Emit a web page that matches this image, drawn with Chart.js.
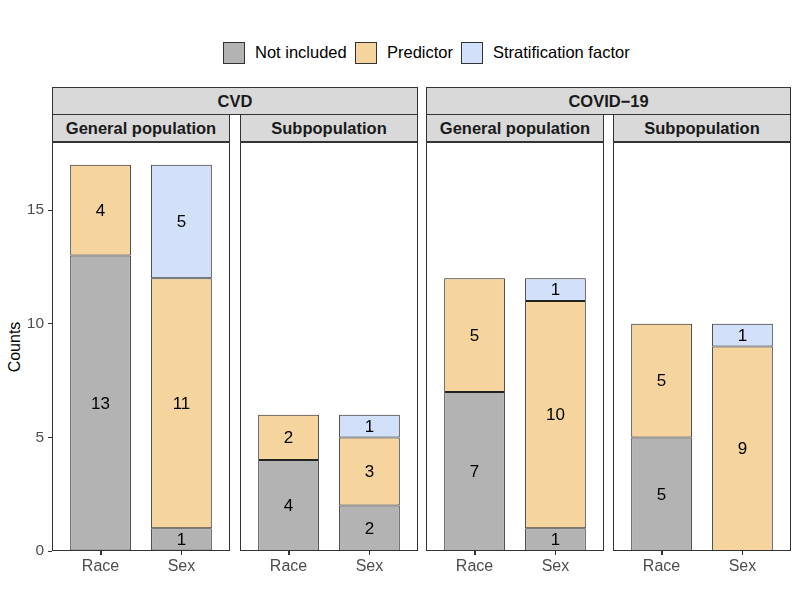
<!DOCTYPE html>
<html>
<head>
<meta charset="utf-8">
<script src="https://cdn.jsdelivr.net/npm/chart.js@4/dist/chart.umd.min.js"></script>
<style>
  body { margin: 0; background: #fff; font-family: "Liberation Sans", Arial, sans-serif; }
  #wrap { position: relative; width: 800px; height: 600px; overflow: hidden; }
  .abs { position: absolute; }
  .strip { position: absolute; background: #d9d9d9; border: 1px solid #333; box-sizing: border-box;
           font-weight: bold; font-size: 16.5px; color: #1a1a1a; text-align: center; }
  .key { position: absolute; width: 22px; height: 22px; border: 1px solid #333; box-sizing: border-box; }
  .keytext { position: absolute; font-size: 16.5px; color: #000; line-height: 22px; }
  canvas { position: absolute; }
</style>
</head>
<body>
<div id="wrap"></div>
<script>
// categories and labels
const categories = ["Race", "Sex"];
const facetLabels = ["CVD", "COVID\u221219"];
const subLabels = ["General population", "Subpopulation"];
const seriesNames = ["Not included", "Predictor", "Stratification factor"];
const seriesColors = ["#b3b3b3", "#f5d49e", "#d2e0fa"];

// values per panel: [Race, Sex]
// panels: CVD/General, CVD/Sub, COVID/General, COVID/Sub
const notIncluded = [[13, 1], [4, 2], [7, 1], [5, 0]];
const predictor = [[4, 11], [2, 3], [5, 10], [5, 9]];
const stratification = [[0, 5], [0, 1], [0, 1], [0, 1]];
const yTicks = [0, 5, 10, 15];

// layout
const panelLeft = [52, 240, 426, 613];
const panelW = 178;
const panelTop = 142, panelBottom = 551;
const yAxisW = 52, xAxisH = 35;
const fontFam = "'Liberation Sans', Arial, sans-serif";

const wrap = document.getElementById("wrap");

function el(tag, cls, style, text) {
  const e = document.createElement(tag);
  if (cls) e.className = cls;
  Object.assign(e.style, style);
  if (text) e.textContent = text;
  wrap.appendChild(e);
  return e;
}

// legend
const keyX = [223, 355, 461];
seriesNames.forEach((name, i) => {
  el("div", "key", { left: keyX[i] + "px", top: "42px", background: seriesColors[i] });
  el("div", "keytext", { left: (keyX[i] + 32) + "px", top: "41px" }, name);
});

// strips
facetLabels.forEach((f, i) => {
  const l = panelLeft[i * 2], r = panelLeft[i * 2 + 1] + panelW;
  el("div", "strip", { left: l + "px", top: "87px", width: (r - l) + "px", height: "28px", lineHeight: "26px" }, f);
  subLabels.forEach((s, j) => {
    const p = panelLeft[i * 2 + j];
    el("div", "strip", { left: p + "px", top: "114px", width: panelW + "px", height: "28px", lineHeight: "26px" }, s);
  });
});

// y axis title
el("div", "abs", { left: "-15px", top: (panelTop + panelBottom) / 2 - 10 + "px", width: "60px", textAlign: "center",
  fontSize: "16px", lineHeight: "20px", color: "#000", transform: "rotate(-90deg)" }, "Counts");

// panel border
const panelFrame = {
  id: "panelFrame",
  afterDatasetsDraw(chart) {
    const { ctx, chartArea: a } = chart;
    ctx.save();
    ctx.strokeStyle = "#333";
    ctx.lineWidth = 1;
    ctx.strokeRect(Math.round(a.left) + 0.5, Math.round(a.top) + 0.5, Math.round(a.right - a.left) - 1, Math.round(a.bottom - a.top) - 1);
    ctx.restore();
  }
};

// value labels + x tick marks
const barLabels = {
  id: "barLabels",
  afterDraw(chart) {
    const { ctx, chartArea: a } = chart;
    const xs = chart.scales.x;
    ctx.save();
    ctx.strokeStyle = "#333";
    ctx.lineWidth = 1;
    ctx.beginPath();
    xs.ticks.forEach((t, i) => {
      const px = Math.round(xs.getPixelForTick(i)) + 0.5;
      ctx.moveTo(px, Math.round(a.bottom) - 1);
      ctx.lineTo(px, Math.round(a.bottom) + 4);
    });
    ctx.stroke();

    ctx.font = "17px " + fontFam;
    ctx.fillStyle = "#000";
    ctx.textAlign = "center";
    ctx.textBaseline = "middle";
    chart.data.datasets.forEach((ds, di) => {
      chart.getDatasetMeta(di).data.forEach((bar, i) => {
        const v = ds.data[i].y;
        if (!v) return;
        ctx.fillText(String(v), bar.x, (bar.y + bar.base) / 2 + 1);
      });
    });
    ctx.restore();
  }
};

const seriesData = [notIncluded, predictor, stratification];

panelLeft.forEach((left, p) => {
  const first = p === 0;
  const cv = document.createElement("canvas");
  const cw = panelW + (first ? yAxisW : 0);
  const ch = panelBottom - panelTop + xAxisH;
  cv.width = cw; cv.height = ch;
  cv.style.left = (first ? left - yAxisW : left) + "px";
  cv.style.top = panelTop + "px";
  cv.style.width = cw + "px"; cv.style.height = ch + "px";
  wrap.appendChild(cv);

  new Chart(cv, {
    type: "bar",
    data: {
      datasets: seriesNames.map((name, s) => ({
        label: name,
        data: categories.map((c, i) => ({ x: i + 1, y: seriesData[s][p][i] || null })),
        backgroundColor: seriesColors[s],
        borderColor: "#222",
        borderWidth: 1,
        borderSkipped: false,
        barPercentage: 0.75,
        categoryPercentage: 1
      }))
    },
    options: {
      responsive: false,
      animation: false,
      layout: { padding: 0 },
      plugins: { legend: { display: false }, tooltip: { enabled: false } },
      scales: {
        x: {
          type: "linear", stacked: true, min: 0.4, max: 2.6, offset: false,
          afterBuildTicks: (s) => { s.ticks = categories.map((c, i) => ({ value: i + 1 })); },
          afterFit: (s) => { s.height = xAxisH; s.paddingLeft = 0; s.paddingRight = 0; },
          grid: { offset: false, drawOnChartArea: false, tickLength: 4, color: "#333" },
          border: { display: false },
          ticks: { callback: (v) => categories[v - 1], color: "#4d4d4d", padding: 2,
                    font: { size: 16, family: fontFam }, maxRotation: 0 }
        },
        y: {
          stacked: true, min: 0, max: 18, display: first,
          afterBuildTicks: (s) => { s.ticks = yTicks.map(v => ({ value: v })); },
          afterFit: (s) => { if (first) s.width = yAxisW; s.paddingTop = 0; s.paddingBottom = 0; },
          grid: { drawOnChartArea: false, tickLength: 4, color: "#333" },
          border: { display: false },
          ticks: { color: "#4d4d4d", padding: 4, font: { size: 15.5, family: fontFam } }
        }
      }
    },
    plugins: [panelFrame, barLabels]
  });
});
</script>
</body>
</html>
